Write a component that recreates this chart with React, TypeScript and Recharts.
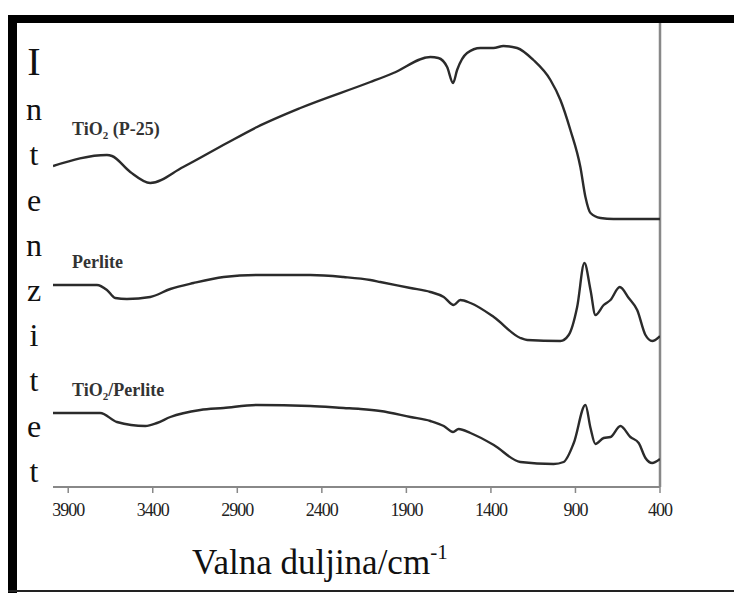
import React from 'react';
import { LineChart, Line, XAxis, YAxis, ReferenceLine } from 'recharts';

// wavenumbers (cm-1) and relative intensity
const tio2Wn = [3990, 3671, 3641, 3533, 3415, 3220, 2961, 2783, 2527, 2113, 1977, 1758, 1711, 1659, 1624, 1600, 1541, 1462, 1385, 1326, 1245, 1149, 1048, 989, 930, 871, 841, 811, 752, 675, 400];
const tio2Val = [321, 332, 331, 315, 304, 320, 344, 360, 379, 405, 414, 430, 429, 420, 404, 417, 434, 439, 439, 441, 439, 427, 407, 387, 357, 320, 290, 274, 269, 268, 268];

const perliteWn = [3990, 3730, 3671, 3622, 3553, 3415, 3296, 3159, 2981, 2783, 2468, 2271, 2113, 2054, 1876, 1758, 1679, 1620, 1581, 1521, 1383, 1226, 1186, 989, 940, 890, 847, 811, 782, 733, 693, 638, 585, 535, 486, 446, 400];
const perliteVal = [202, 202, 197, 189, 188, 190, 198, 204, 210, 212, 212, 210, 207, 205, 199, 195, 190, 182, 187, 184, 170, 149, 147, 146, 152, 180, 224, 197, 172, 182, 187, 200, 189, 177, 152, 146, 151];

const mixWn = [3990, 3711, 3612, 3444, 3375, 3296, 3119, 2981, 2783, 2468, 2271, 2172, 2054, 1876, 1758, 1679, 1624, 1591, 1521, 1383, 1226, 1029, 970, 910, 841, 811, 782, 733, 693, 634, 575, 526, 486, 446, 400];
const mixVal = [74, 74, 65, 61, 64, 70, 77, 79, 82, 81, 79, 78, 76, 70, 66, 61, 55, 58, 54, 42, 25, 23, 25, 44, 82, 59, 43, 49, 50, 61, 50, 44, 29, 24, 28];

const xTicks = [3900, 3400, 2900, 2400, 1900, 1400, 900, 400];
const yLetters = ['I', 'n', 't', 'e', 'n', 'z', 'i', 't', 'e', 't'];

const toRows = (wn: number[], val: number[]) => wn.map((w, i) => ({ wn: w, v: val[i] }));

const tio2Data = toRows(tio2Wn, tio2Val);
const perliteData = toRows(perliteWn, perliteVal);
const mixData = toRows(mixWn, mixVal);

const serif = '"Liberation Serif", "Times New Roman", serif';
const lineColor = '#2b2b2b';
const frameColor = '#888';

const App: React.FC = () => {
  return (
    <div style={{ position: 'absolute', left: 0, top: 0, width: 734, height: 593, background: '#fff' }}>
      <LineChart
        width={734}
        height={593}
        margin={{ top: 23, right: 74, bottom: 0, left: 53 }}
        style={{ fontFamily: serif }}
      >
        <XAxis
          dataKey="wn"
          type="number"
          domain={[400, 3990]}
          reversed
          allowDataOverflow
          ticks={xTicks}
          height={106}
          tickSize={6}
          tickMargin={10}
          stroke={frameColor}
          axisLine={{ stroke: frameColor, strokeWidth: 2 }}
          tickLine={{ stroke: frameColor, strokeWidth: 1.5 }}
          tick={{ fill: '#222', fontSize: 18, fontFamily: serif, letterSpacing: -1 }}
        />
        <YAxis
          type="number"
          domain={[0, 464]}
          allowDataOverflow
          width={0}
          tick={false}
          tickLine={false}
          axisLine={{ stroke: frameColor, strokeWidth: 2 }}
        />
        <ReferenceLine x={400} stroke={frameColor} strokeWidth={2.5} />
        <Line data={tio2Data} dataKey="v" type="monotone" stroke={lineColor} strokeWidth={2.4} dot={false} isAnimationActive={false} />
        <Line data={perliteData} dataKey="v" type="monotone" stroke={lineColor} strokeWidth={2.4} dot={false} isAnimationActive={false} />
        <Line data={mixData} dataKey="v" type="monotone" stroke={lineColor} strokeWidth={2.4} dot={false} isAnimationActive={false} />
      </LineChart>

      <svg
        width={734}
        height={593}
        style={{ position: 'absolute', left: 0, top: 0, pointerEvents: 'none' }}
      >
        {/* black frame */}
        <rect x={8} y={15} width={726} height={8} fill="#000" />
        <rect x={8} y={15} width={9} height={578} fill="#000" />
        <rect x={8} y={590} width={726} height={2} fill="#222" />

        {/* series labels */}
        <g fontFamily={serif} fontWeight="bold" fontSize={18} fill="#333">
          <text x={72} y={135}>
            TiO<tspan fontSize={11} dy={4}>2</tspan>
            <tspan dy={-4}> (P-25)</tspan>
          </text>
          <text x={72} y={268}>Perlite</text>
          <text x={72} y={396}>
            TiO<tspan fontSize={11} dy={4}>2</tspan>
            <tspan dy={-4}>/Perlite</tspan>
          </text>
        </g>

        {/* vertical axis title, one letter per line */}
        <g fontFamily={serif} fill="#111" textAnchor="middle">
          {yLetters.map((ch, i) => (
            <text key={i} x={34} y={75 + i * 45.2} fontSize={i === 0 ? 40 : 32}>
              {ch}
            </text>
          ))}
        </g>

        {/* horizontal axis title */}
        <text x={192} y={574} fontFamily={serif} fontSize={35} fill="#111">
          Valna duljina/cm<tspan fontSize={21} dy={-15}>-1</tspan>
        </text>
      </svg>
    </div>
  );
};

export default App;
